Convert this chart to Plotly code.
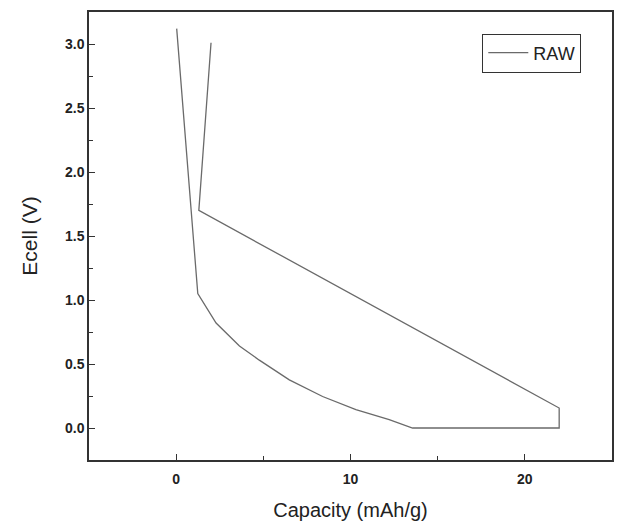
import plotly.graph_objects as go

# Data (Capacity mAh/g, Ecell V)
capacity = [0.03, 1.24, 2.29, 3.63, 4.77, 6.49, 8.40, 10.31, 12.22, 13.56,
            21.97, 21.97, 1.30, 2.00]
ecell = [3.12, 1.05, 0.82, 0.64, 0.53, 0.376, 0.246, 0.143, 0.065, 0.0,
         0.0, 0.156, 1.70, 3.01]
series_name = "RAW"

x_ticks = [0, 10, 20]
y_ticks = [0.0, 0.5, 1.0, 1.5, 2.0, 2.5, 3.0]

FONT = "Liberation Sans, Arial"

fig = go.Figure()
fig.add_trace(go.Scatter(x=capacity, y=ecell, mode="lines", name=series_name,
                         line=dict(color="#6a6a6a", width=1.3)))

axis_common = dict(showline=True, linecolor="#333333", linewidth=1.5, mirror=True,
                   ticks="inside", ticklen=6, tickwidth=1.2, tickcolor="#333333",
                   showgrid=False, zeroline=False, automargin=False,
                   tickfont=dict(family=FONT, size=14, color="#222222", weight="bold"))

fig.update_xaxes(range=[-5, 25], tickvals=x_ticks, ticktext=[str(v) for v in x_ticks],
                 ticklabelstandoff=5,
                 minor=dict(ticks="inside", ticklen=4, dtick=5, tickcolor="#333333"),
                 title=dict(text="Capacity (mAh/g)", font=dict(family=FONT, size=20, color="#222222"), standoff=17),
                 **axis_common)
fig.update_yaxes(range=[-0.25, 3.25], tickvals=y_ticks, ticktext=[f"{v:.1f}" for v in y_ticks],
                 minor=dict(ticks="inside", ticklen=4, dtick=0.25, tick0=0, tickcolor="#333333"),
                 title=dict(text="Ecell (V)", font=dict(family=FONT, size=21, color="#222222"), standoff=22),
                 **axis_common)

fig.update_layout(
    width=630, height=523,
    margin=dict(l=89, r=18, t=12, b=63),
    plot_bgcolor="white", paper_bgcolor="white",
    showlegend=True,
    legend=dict(x=0.752, y=0.952, xanchor="left", yanchor="top",
                bordercolor="#333333", borderwidth=1, bgcolor="white",
                font=dict(family=FONT, size=18, color="#222222"),
                itemwidth=40, tracegroupgap=0),
)

fig.write_html("out.html")
